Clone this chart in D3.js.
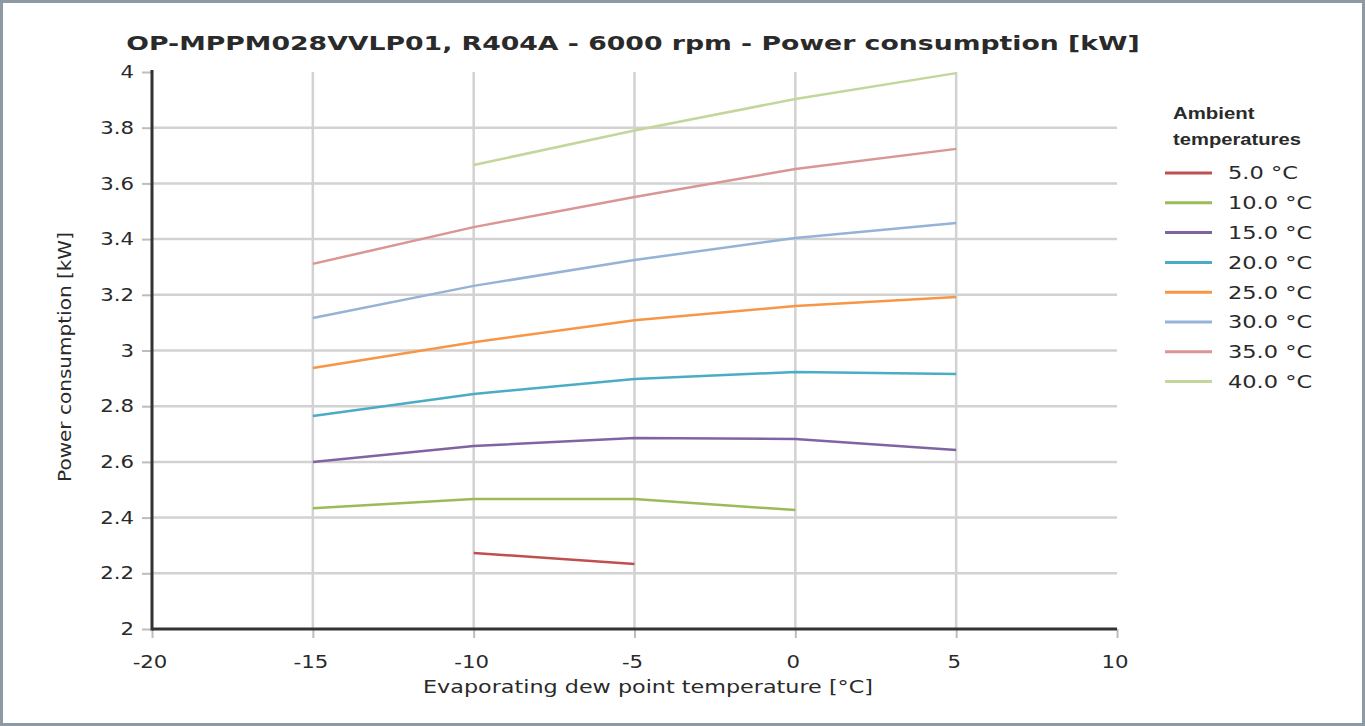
<!DOCTYPE html>
<html><head><meta charset="utf-8">
<script src="https://cdn.jsdelivr.net/npm/d3@7/dist/d3.min.js"></script>
<style>
html,body{margin:0;padding:0;background:#fff;}
svg{display:block;}
</style></head>
<body>
<svg id="c" width="1365" height="726"></svg>
<script>
const xValues = [-15, -10, -5, 0, 5];
const seriesNames = ["5.0 °C","10.0 °C","15.0 °C","20.0 °C","25.0 °C","30.0 °C","35.0 °C","40.0 °C"];
const s5  = [null, 2.273, 2.233, null, null];
const s10 = [2.434, 2.467, 2.467, 2.427, null];
const s15 = [2.600, 2.657, 2.686, 2.682, 2.643];
const s20 = [2.765, 2.844, 2.898, 2.923, 2.916];
const s25 = [2.937, 3.030, 3.109, 3.160, 3.192];
const s30 = [3.117, 3.232, 3.325, 3.404, 3.458];
const s35 = [3.311, 3.443, 3.551, 3.652, 3.724];
const s40 = [null, 3.666, 3.790, 3.903, 3.996];
const seriesValues = [s5, s10, s15, s20, s25, s30, s35, s40];
const colors = ["#c0504d","#9bbb59","#8064a2","#4bacc6","#f79646","#95b3d7","#d99694","#c3d69b"];
const xTicks = [-20,-15,-10,-5,0,5,10];
const yTicks = [2,2.2,2.4,2.6,2.8,3,3.2,3.4,3.6,3.8,4];

const svg = d3.select("#c");
svg.append("rect").attr("x",1.5).attr("y",1.5).attr("width",1362).attr("height",723)
  .attr("fill","#fff").attr("stroke","#8e9aa3").attr("stroke-width",3);

const L=152,R=1117,T=72,B=629;
const x = d3.scaleLinear().domain([-20,10]).range([L,R]);
const y = d3.scaleLinear().domain([2,4]).range([B,T]);
const FONT = "Verdana, 'DejaVu Sans', sans-serif";
const TXT = "#2a2a2a";
const SX = 1.25;

function label(parent, px, py, str, opts) {
  const o = Object.assign({size:18, anchor:"start", weight:"normal", family:FONT, rotate:0, sx:SX, width:null, dy:null}, opts||{});
  const t = parent.append("text").attr("x",0).attr("y",0)
    .attr("text-anchor",o.anchor).style("font-family",o.family).style("font-size",o.size+"px")
    .style("font-weight",o.weight).attr("fill",TXT).text(str);
  if (o.dy) t.attr("dy",o.dy);
  let sx = o.sx;
  if (o.width) sx = o.width / t.node().getComputedTextLength();
  t.attr("transform",`translate(${px},${py}) rotate(${o.rotate}) scale(${sx},1)`);
  return t;
}

const g = svg.append("g");
g.selectAll(".hg").data(yTicks.filter(v=>v>2&&v<4)).enter().append("line")
  .attr("x1",L).attr("x2",R).attr("y1",d=>y(d)).attr("y2",d=>y(d))
  .attr("stroke","#d2d2d2").attr("stroke-width",2.5);
g.selectAll(".vg").data(xTicks.filter(v=>v>-20&&v<10)).enter().append("line")
  .attr("y1",T).attr("y2",B).attr("x1",d=>x(d)).attr("x2",d=>x(d))
  .attr("stroke","#d2d2d2").attr("stroke-width",2.5);

const fmtY = d => d3.format("~g")(d);
const fmtX = d => String(d);
const xa = svg.append("g").attr("transform",`translate(0,${B})`)
  .call(d3.axisBottom(x).tickValues(xTicks).tickSize(9).tickFormat(""));
const ya = svg.append("g").attr("transform",`translate(${L},0)`)
  .call(d3.axisLeft(y).tickValues(yTicks).tickSize(10).tickFormat(""));
[xa,ya].forEach(a=>{
  a.select(".domain").remove();
  a.selectAll(".tick line").attr("stroke","#bdbdbd").attr("stroke-width",2);
});
xTicks.forEach(v=>label(svg, x(v)-2, 668, fmtX(v), {size:17, anchor:"middle"}));
yTicks.forEach(v=>label(svg, 134, y(v), fmtY(v), {size:17, anchor:"end", dy:"0.36em"}));

svg.append("line").attr("x1",L).attr("x2",L).attr("y1",T-2).attr("y2",B+1.5).attr("stroke","#333").attr("stroke-width",3);
svg.append("line").attr("x1",L).attr("x2",R).attr("y1",B).attr("y2",B).attr("stroke","#333").attr("stroke-width",3);

const line = d3.line().defined(d=>d[1]!=null).x(d=>x(d[0])).y(d=>y(d[1]));
seriesValues.forEach((s,i)=>{
  svg.append("path").datum(xValues.map((xv,j)=>[xv,s[j]]))
    .attr("d",line).attr("fill","none").attr("stroke",colors[i]).attr("stroke-width",2.5);
});

label(svg, 633, 50, "OP-MPPM028VVLP01, R404A - 6000 rpm - Power consumption [kW]",
  {size:20, anchor:"middle", weight:"bold", width:1014});
label(svg, 648, 693, "Evaporating dew point temperature [°C]", {size:18, anchor:"middle", width:450});
label(svg, 71, 357, "Power consumption [kW]", {size:18, anchor:"middle", rotate:-90, width:250});

const LF = "'Liberation Sans', Arial, sans-serif";
label(svg, 1173, 119, "Ambient", {size:17, weight:"bold", family:LF, sx:1.2});
label(svg, 1173, 145, "temperatures", {size:17, weight:"bold", family:LF, width:128});
seriesNames.forEach((n,i)=>{
  const yy = 173 + i*29.8;
  svg.append("line").attr("x1",1165).attr("x2",1212).attr("y1",yy).attr("y2",yy)
    .attr("stroke",colors[i]).attr("stroke-width",3);
  label(svg, 1228, yy, n, {size:18, dy:"0.36em"});
});
</script>
</body></html>
